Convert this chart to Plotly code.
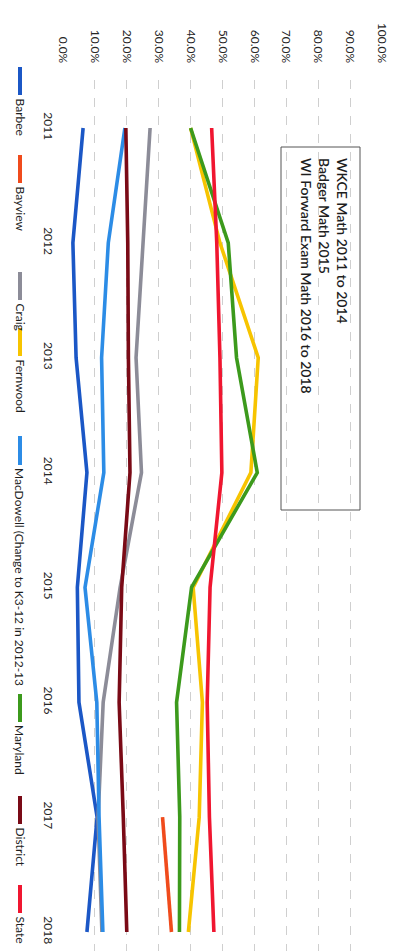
import plotly.graph_objects as go

years = [2011, 2012, 2013, 2014, 2015, 2016, 2017, 2018]

barbee    = [0.063, 0.031, 0.041, 0.075, 0.045, 0.050, 0.107, 0.075]
bayview   = [None, None, None, None, None, None, 0.312, 0.340]
craig     = [0.273, 0.250, 0.229, 0.246, 0.179, 0.126, 0.110, 0.122]
fernwood  = [0.400, 0.492, 0.612, 0.589, 0.408, 0.437, 0.427, 0.393]
macdowell = [0.194, 0.142, 0.121, 0.128, 0.069, 0.106, 0.113, 0.125]
maryland  = [0.400, 0.518, 0.544, 0.609, 0.403, 0.356, 0.366, 0.365]
district  = [0.197, 0.203, 0.205, 0.210, 0.184, 0.176, 0.189, 0.200]
state     = [0.466, 0.482, 0.492, 0.498, 0.461, 0.452, 0.459, 0.473]

series_names = ["Barbee", "Bayview", "Craig", "Fernwood",
                "MacDowell (Change to K3-12 in 2012-13", "Maryland", "District", "State"]
series_values = [barbee, bayview, craig, fernwood, macdowell, maryland, district, state]
series_colors = ["#1b57c6", "#f04b1c", "#8c8c98", "#f7c400",
                 "#2c8ce6", "#3c9a1c", "#7a0a16", "#f01630"]

title_lines = ["WKCE Math 2011 to 2014", "Badger Math 2015", "WI Forward Exam Math 2016 to 2018"]

x_ticks = [i / 10 for i in range(11)]

W, H = 401, 951
ML, MR, MT, MB = 63, 19, 80, 0
PW = W - ML - MR
PH = H - MT - MB


def px(xp):
    return (xp - ML) / PW


def py(yp):
    return (H - MB - yp) / PH


fig = go.Figure()
for name, vals, col in zip(series_names, series_values, series_colors):
    fig.add_trace(go.Scatter(
        x=vals, y=years, mode="lines", name=name,
        line=dict(color=col, width=3.6),
        connectgaps=False, showlegend=False,
    ))

# y range so that 2011 sits at 128px and 2018 at 932px
ppy = (932 - 128) / 7.0
y_top = 2011 - (128 - MT) / ppy
y_bot = y_top + PH / ppy

fig.update_layout(
    width=W, height=H,
    margin=dict(l=ML, r=MR, t=MT, b=MB, pad=0),
    paper_bgcolor="white", plot_bgcolor="white",
    font=dict(family="Lato, Open Sans, sans-serif", size=12, color="#262626"),
    xaxis=dict(
        range=[0, 1], side="top", tickvals=x_ticks, tickformat=".1%",
        tickangle=90, showgrid=True, gridcolor="#cfcfcf", griddash="dash",
        gridwidth=1, zeroline=False, showline=False, ticks="",
        tickfont=dict(size=12, color="#262626"), ticklabelstandoff=14,
        fixedrange=True,
    ),
    yaxis=dict(
        range=[y_bot, y_top], tickvals=years, ticktext=[str(y) for y in years],
        tickangle=90, showgrid=False, zeroline=False, showline=False, ticks="",
        tickfont=dict(size=12, color="#262626"), ticklabelstandoff=6,
        fixedrange=True,
    ),
)

# title box
fig.add_shape(type="rect", xref="paper", yref="paper",
              x0=px(281), x1=px(360), y0=py(510), y1=py(147),
              line=dict(color="#555555", width=1), fillcolor="white", layer="below")
fig.add_annotation(xref="paper", yref="paper", x=px(325), y=py(156),
                   xanchor="center", yanchor="top", textangle=90, align="left",
                   showarrow=False, text="<br>".join(title_lines),
                   font=dict(size=14, color="#1e1e1e", weight=600,
                             family="Lato, Open Sans, sans-serif"))

# legend (rotated)
legend_pos = [(67, 95), (155, 183), (272, 300), (328, 356),
              (436, 465), (694, 722), (796, 824), (885, 913)]
LX = 20
for (y0, y1), name, col in zip(legend_pos, series_names, series_colors):
    fig.add_shape(type="line", xref="paper", yref="paper",
                  x0=px(LX), x1=px(LX), y0=py(y0), y1=py(y1),
                  line=dict(color=col, width=4))
    fig.add_annotation(xref="paper", yref="paper", x=px(LX), y=py(y1 + 1),
                       xanchor="center", yanchor="top", textangle=90,
                       showarrow=False, text=name,
                       font=dict(size=12, color="#1e1e1e"))

fig.write_html("out.html")
